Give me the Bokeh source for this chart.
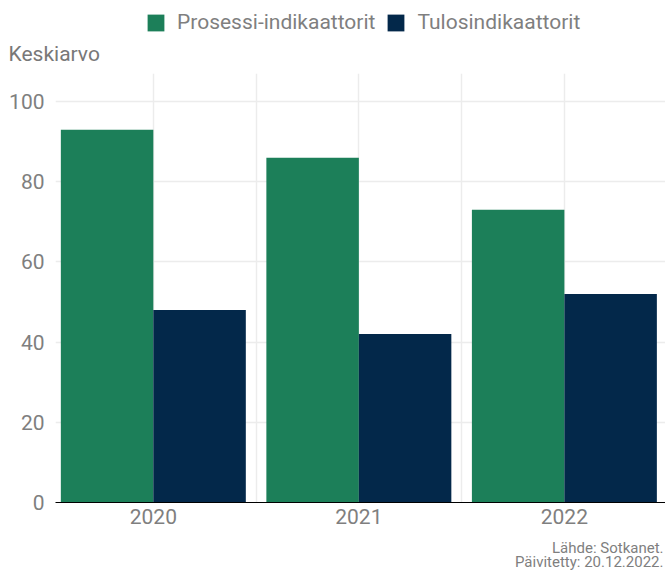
from bokeh.plotting import figure
from bokeh.models import (Range1d, FixedTicker, Legend, LegendItem, Label,
                          Title, ColumnDataSource)
from bokeh.layouts import column
from bokeh.transform import dodge
from bokeh.embed import file_html
from bokeh.resources import INLINE

# ---- data ----
years = ["2020", "2021", "2022"]
series_names = ["Prosessi-indikaattorit", "Tulosindikaattorit"]
prosessi = [93, 86, 73]
tulos = [48, 42, 52]
y_ticks = [0, 20, 40, 60, 80, 100]
axis_title = "Keskiarvo"
source_lines = ["Lähde: Sotkanet.", "Päivitetty: 20.12.2022."]

# ---- styles ----
colors = ["#1c7f59", "#03284a"]
FONT = "Roboto"
TXT = "#7f7f7f"
GRID = "#ececec"
W = 665
LEFT = 55
HEAD_H = 73
MAIN_H = 460
FOOT_H = 570 - HEAD_H - MAIN_H

idx = list(range(len(years)))
src = ColumnDataSource(dict(x=idx, prosessi=prosessi, tulos=tulos))
bw = 0.45


def bare(height):
    f = figure(width=W, height=height, output_backend="svg",
               toolbar_location=None, x_axis_location=None,
               y_axis_location=None, min_border=0, min_border_left=0,
               min_border_right=0, min_border_top=0, min_border_bottom=0,
               title_location=None,
               x_range=Range1d(0, W), y_range=Range1d(0, height))
    f.grid.visible = False
    f.outline_line_color = None
    f.background_fill_color = "white"
    f.border_fill_color = "white"
    return f


# ---------------- header: legend + axis title ----------------
head = bare(HEAD_H)
h1 = head.vbar(x="x", top="prosessi", width=bw, source=src,
               fill_color=colors[0], line_color=None, visible=False)
h2 = head.vbar(x="x", top="tulos", width=bw, source=src,
               fill_color=colors[1], line_color=None, visible=False)
legend = Legend(items=[LegendItem(label=series_names[0], renderers=[h1]),
                       LegendItem(label=series_names[1], renderers=[h2])],
                location=(145 - LEFT, 0), orientation="horizontal",
                glyph_width=21, glyph_height=21, label_standoff=11, spacing=10,
                padding=0, margin=0, label_height=21,
                label_text_font=FONT, label_text_font_size="21px",
                label_text_color=TXT, background_fill_alpha=0,
                border_line_alpha=0, inactive_fill_alpha=0)
head.add_layout(legend)
head.add_layout(Title(text=axis_title, align="left", offset=8 - LEFT,
                      vertical_align="middle", standoff=13, text_font=FONT,
                      text_font_size="21px", text_font_style="normal",
                      text_color="#787878"), "below")

# ---------------- main chart ----------------
p = figure(width=W, height=MAIN_H, output_backend="svg", toolbar_location=None,
           x_range=Range1d(-0.476, 2.492), y_range=Range1d(0, 107),
           min_border_left=LEFT, min_border_right=0, min_border_top=0,
           min_border_bottom=31, title_location=None)
p.outline_line_color = None
p.background_fill_color = "white"
p.border_fill_color = "white"

p.vbar(x=dodge("x", -bw / 2, range=p.x_range), top="prosessi", width=bw,
       source=src, fill_color=colors[0], line_color=None)
p.vbar(x=dodge("x", bw / 2, range=p.x_range), top="tulos", width=bw,
       source=src, fill_color=colors[1], line_color=None)

xa = p.xaxis[0]
xa.ticker = FixedTicker(ticks=idx)
xa.major_label_overrides = {i: y for i, y in zip(idx, years)}
xa.major_tick_line_color = None
xa.major_tick_out = 0
xa.major_tick_in = 0
xa.minor_tick_line_color = None
xa.axis_line_color = "black"
xa.axis_line_width = 1
xa.major_label_text_font = FONT
xa.major_label_text_font_size = "21px"
xa.major_label_text_color = TXT
xa.major_label_standoff = 6

ya = p.yaxis[0]
ya.ticker = FixedTicker(ticks=y_ticks)
ya.axis_line_color = None
ya.major_tick_line_color = None
ya.major_tick_out = 0
ya.major_tick_in = 0
ya.minor_tick_line_color = None
ya.major_label_text_font = FONT
ya.major_label_text_font_size = "21px"
ya.major_label_text_color = TXT
ya.major_label_standoff = 11

p.xgrid.ticker = FixedTicker(ticks=[i / 2 for i in range(2 * len(years) - 1)])
p.xgrid.grid_line_color = GRID
p.xgrid.grid_line_width = 1.5
p.ygrid.ticker = FixedTicker(ticks=y_ticks)
p.ygrid.grid_line_color = GRID
p.ygrid.grid_line_width = 1.5

# ---------------- footer: source notes ----------------
foot = bare(FOOT_H)
for i, line in enumerate(source_lines):
    foot.add_layout(Label(x=W - LEFT - 2, y=23 - 14.5 * i,
                          x_units="screen", y_units="screen", text=line,
                          text_font=FONT, text_font_size="15px",
                          text_color=TXT, text_baseline="middle",
                          text_align="right"))

layout = column(head, p, foot, spacing=0)
open("out.html", "w").write(file_html(layout, INLINE))
